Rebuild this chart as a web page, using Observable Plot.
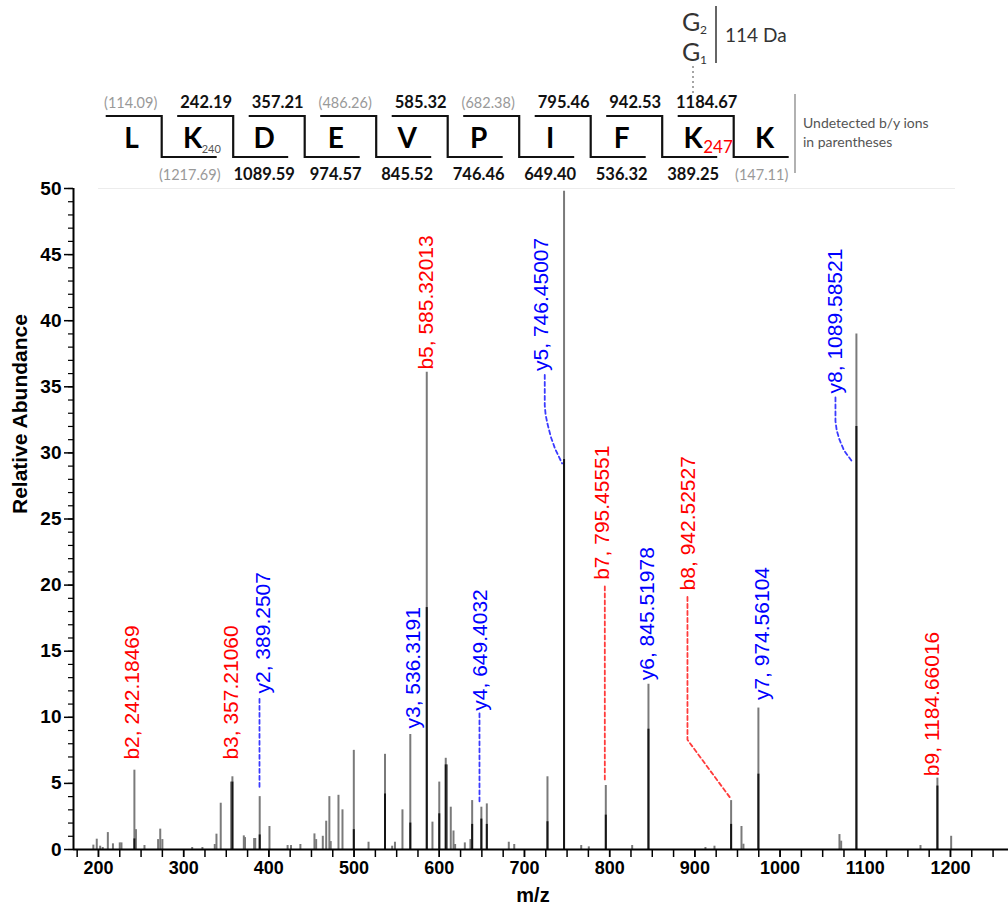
<!DOCTYPE html>
<html><head><meta charset="utf-8">
<script src="https://cdn.jsdelivr.net/npm/d3@7"></script>
<script src="https://cdn.jsdelivr.net/npm/@observablehq/plot@0.6"></script>
<style>body{margin:0;background:#fff}#chart svg{display:block}</style>
</head><body><div id="chart"></div>
<script>
// ---- spectrum peaks (m/z, relative abundance) ----
const peakMz = [194, 198, 202, 205, 211, 217, 225, 227, 242.18, 244, 254, 270, 272.5, 275, 310, 322, 336.5, 338.5, 343.5, 355.7, 357.21, 370.6, 372, 382.7, 384, 389.25, 400.7, 422, 426, 437, 453.5, 455.5, 463.3, 467.3, 471, 472.6, 481.7, 486.4, 499.7, 517, 536.32, 544.7, 548, 556.8, 566, 585.32, 592, 600, 607.6, 609, 613.5, 616.7, 618.6, 630, 636.6, 638.6, 649.4, 655.8, 681.6, 688, 727, 746.45, 766.6, 775.5, 795.46, 826.4, 845.52, 912.4, 923, 942.53, 954.7, 957, 974.56, 1069.7, 1071.7, 1089.59, 1164.8, 1184.66, 1200.8];
const peakIntensity = [0.33, 0.78, 0.25, 0.15, 1.28, 0.43, 0.5, 0.5, 6.0, 1.5, 0.3, 0.75, 1.54, 0.75, 0.15, 0.15, 0.38, 1.16, 3.5, 5.1, 5.5, 1.03, 0.9, 0.83, 0.83, 4.0, 1.74, 0.3, 0.3, 0.38, 1.18, 0.75, 1.0, 2.14, 4.0, 0.6, 4.1, 3.0, 7.5, 0.55, 7.2, 0.25, 0.55, 3.0, 8.7, 36.1, 2.07, 5.1, 6.9, 6.4, 3.2, 1.4, 0.38, 0.5, 0.75, 3.7, 3.2, 3.45, 0.55, 0.38, 5.5, 49.8, 0.3, 0.2, 4.84, 0.3, 12.5, 0.15, 0.25, 3.7, 1.74, 0.4, 10.7, 1.13, 0.63, 39.0, 0.3, 5.4, 1.0];
// darker inner trace of the main peaks
const coreMz = [242.18, 357.21, 389.25, 499.7, 536.32, 566, 585.32, 600, 607.6, 638.6, 649.4, 655.8, 727, 746.45, 795.46, 845.52, 942.53, 974.56, 1089.59, 1184.66];
const coreIntensity = [0.8, 5.1, 1.1, 1.5, 4.2, 2.0, 18.3, 2.7, 6.4, 1.9, 2.3, 1.9, 2.1, 29.5, 2.6, 9.1, 1.9, 5.7, 32.0, 4.8];

// ---- ion annotations ----
const ionLabels = ["b2, 242.18469", "b3, 357.21060", "y2, 389.2507", "y3, 536.3191", "y4, 649.4032", "b5, 585.32013", "y5, 746.45007", "b7, 795.45551", "y6, 845.51978", "b8, 942.52527", "y7, 974.56104", "y8, 1089.58521", "b9, 1184.66016"];
const ionLabelMz = [239.6, 356.1, 393.7, 569.7, 648.4, 584.4, 719.4, 791.5, 844.4, 892.5, 979.3, 1065, 1178.9];
const ionLabelBase = [6.8, 6.8, 11.8, 9.15, 10.5, 36.3, 36.2, 20.4, 12.8, 19.6, 11.3, 34.5, 5.55];

// dashed leader lines
const connId = ["y2","y2","y4","y4","y5","y5","y5","y5","y5","y5","y5","b7","b7","b8","b8","b8","y8","y8","y8","y8","y8","y8"];
const connMz = [389.0, 389.0, 647.2, 647.2, 723.8, 723.8, 724.8, 727, 731, 736, 744.2, 794.3, 794.3, 891.3, 891.3, 941, 1065, 1065, 1066.5, 1069.7, 1075, 1085];
const connV = [11.4, 4.7, 10.3, 3.5, 35.9, 33.6, 32.9, 32.2, 31.2, 30.3, 29.2, 19.9, 5.1, 19.1, 8.3, 3.95, 34.2, 32.4, 31.7, 31.0, 30.2, 29.3];

// ---- axes ----
const xTicks = [200, 300, 400, 500, 600, 700, 800, 900, 1000, 1100, 1200];
const xMinorTicks = d3.range(175, 1275, 25);
const yTicks = [0, 5, 10, 15, 20, 25, 30, 35, 40, 45, 50];
const yMinorTicks = d3.range(0, 51, 1);

// ---- peptide sequence diagram ----
const residues = ["L", "K", "D", "E", "V", "P", "I", "F", "K", "K"];
const residueSub = ["", "240", "", "", "", "", "", "", "247", ""];
const bIons = ["(114.09)", "242.19", "357.21", "(486.26)", "585.32", "(682.38)", "795.46", "942.53", "1184.67"];
const yIons = ["(1217.69)", "1089.59", "974.57", "845.52", "746.46", "649.40", "536.32", "389.25", "(147.11)"];

const peaks = peakMz.map((mz, i) => ({mz, v: peakIntensity[i]}));
const cores = coreMz.map((mz, i) => ({mz, v: coreIntensity[i]}));
const labels = ionLabels.map((text, i) => ({text, mz: ionLabelMz[i], base: ionLabelBase[i], type: text[0]}));
const conns = connId.map((id, i) => ({id, mz: connMz[i], v: connV[i], type: id[0]}));

const RED = "#ff0000", BLUE = "#0000ff";
const font = "'Liberation Sans', Arial, sans-serif";

const plot = Plot.plot({
  width: 1008, height: 915,
  marginTop: 188, marginBottom: 66, marginLeft: 73, marginRight: 0,
  style: {fontFamily: font, background: "white", color: "black", overflow: "visible"},
  x: {domain: [170.7, 1268.1]},
  y: {domain: [0, 50]},
  marks: [
    Plot.axisX(xMinorTicks, {tickSize: 8, fill: "none", strokeWidth: 1.5, label: null}),
    Plot.axisX(xTicks, {tickSize: 8, tickPadding: 4, tickFormat: d => String(d), fontSize: 18, fontWeight: "bold", strokeWidth: 1.5, label: null}),
    Plot.axisY(yMinorTicks, {tickSize: 5, fill: "none", strokeWidth: 1.2, label: null}),
    Plot.axisY(yTicks, {tickSize: 9, tickPadding: 3, tickFormat: d => String(d), fontSize: 19, fontWeight: "bold", strokeWidth: 1.5, label: null}),
    Plot.ruleX(peaks, {x: "mz", y1: 0, y2: "v", stroke: "#7a7a7a", strokeWidth: 2}),
    Plot.ruleX(cores, {x: "mz", y1: 0, y2: "v", stroke: "#161616", strokeWidth: 2}),
    Plot.ruleY([0], {strokeWidth: 2}),
    Plot.ruleX([170.7], {y1: 0, y2: 50, strokeWidth: 2}),
    Plot.line(conns.filter(d => d.type === "b"), {x: "mz", y: "v", z: "id", stroke: "#ff3b3b", strokeWidth: 1.8, strokeDasharray: "4,3"}),
    Plot.line(conns.filter(d => d.type === "y"), {x: "mz", y: "v", z: "id", stroke: "#3a3aff", strokeWidth: 1.8, strokeDasharray: "4,3"}),
    Plot.text(labels.filter(d => d.type === "b"), {x: "mz", y: "base", text: "text", rotate: -90, textAnchor: "start", lineAnchor: "middle", fill: RED, fontSize: 21}),
    Plot.text(labels.filter(d => d.type === "y"), {x: "mz", y: "base", text: "text", rotate: -90, textAnchor: "start", lineAnchor: "middle", fill: BLUE, fontSize: 21}),
    Plot.text(["m/z"], {frameAnchor: "bottom", dx: -8, dy: 46, lineAnchor: "middle", fontSize: 20, fontWeight: "bold"}),
    Plot.text(["Relative Abundance"], {frameAnchor: "left", dx: -53, dy: -5, rotate: -90, lineAnchor: "middle", fontSize: 21, fontWeight: "bold"})
  ]
});

// ---- draw the sequence diagram in the top margin ----
const svg = d3.select(plot);
const g = svg.append("g").attr("font-family", "Lato, 'Open Sans', sans-serif").attr("text-anchor", "start");
const cut = d3.scaleLinear().domain([0, 8]).range([161.7, 161.7 + 71.5 * 8]);
const yTop = 116, yBot = 157;

g.append("line").attr("x1", 98).attr("x2", 955).attr("y1", 188.5).attr("y2", 188.5)
  .attr("stroke", "#ececec").attr("stroke-width", 1);

bIons.forEach((_, i) => {
  const s = cut(i);
  g.append("path")
    .attr("d", `M${s - 56},${yTop}H${s}V${yBot}H${s + 55}`)
    .attr("fill", "none").attr("stroke", "#111").attr("stroke-width", 2.2);
});

residues.forEach((r, j) => {
  const x = j === 0 ? 131.5 : cut(j - 1) + 31;
  g.append("text").attr("x", x).attr("y", 148).attr("text-anchor", "middle")
    .attr("font-size", 28).attr("font-weight", "bold").attr("fill", "#000").text(r);
  if (residueSub[j]) {
    const red = residueSub[j] === "247";
    g.append("text").attr("x", x + (red ? 10 : 9)).attr("y", 153).attr("text-anchor", "start")
      .attr("font-size", red ? 17 : 11).attr("fill", red ? "#ff0000" : "#555").text(residueSub[j]);
  }
});

bIons.forEach((t, i) => {
  const und = t.startsWith("(");
  g.append("text").attr("x", cut(i) - 27 - (und ? 4 : 0)).attr("y", 108).attr("text-anchor", "middle")
    .attr("font-size", und ? 14.5 : 16.5).attr("font-weight", und ? "normal" : "bold")
    .attr("fill", und ? "#999" : "#111").text(t);
});
yIons.forEach((t, i) => {
  const und = t.startsWith("(");
  g.append("text").attr("x", cut(i) + 31 - (und ? 3 : 0)).attr("y", 180).attr("text-anchor", "middle")
    .attr("font-size", und ? 14.5 : 16.5).attr("font-weight", und ? "normal" : "bold")
    .attr("fill", und ? "#999" : "#111").text(t);
});

// legend bracket on the right
g.append("line").attr("x1", 795).attr("x2", 795).attr("y1", 94).attr("y2", 173)
  .attr("stroke", "#888").attr("stroke-width", 1.3);
g.append("text").attr("x", 803).attr("y", 128).attr("text-anchor", "start").attr("font-size", 14).attr("fill", "#555").text("Undetected b/y ions");
g.append("text").attr("x", 803).attr("y", 147).attr("text-anchor", "start").attr("font-size", 14).attr("fill", "#555").text("in parentheses");

// G1/G2 modification on K247
g.append("line").attr("x1", 693).attr("x2", 693).attr("y1", 66).attr("y2", 93)
  .attr("stroke", "#888").attr("stroke-width", 1.5).attr("stroke-dasharray", "2,3");
const gG = g.append("g").attr("fill", "#333").attr("text-anchor", "start");
gG.append("text").attr("x", 682).attr("y", 31).attr("font-size", 25).text("G");
gG.append("text").attr("x", 700).attr("y", 34).attr("font-size", 12).text("2");
gG.append("text").attr("x", 682).attr("y", 61).attr("font-size", 25).text("G");
gG.append("text").attr("x", 700).attr("y", 64).attr("font-size", 12).text("1");
g.append("line").attr("x1", 716).attr("x2", 716).attr("y1", 6).attr("y2", 63)
  .attr("stroke", "#333").attr("stroke-width", 1.5);
gG.append("text").attr("x", 725).attr("y", 42).attr("font-size", 19).text("114 Da");

document.getElementById("chart").appendChild(plot);
</script>
</body></html>
